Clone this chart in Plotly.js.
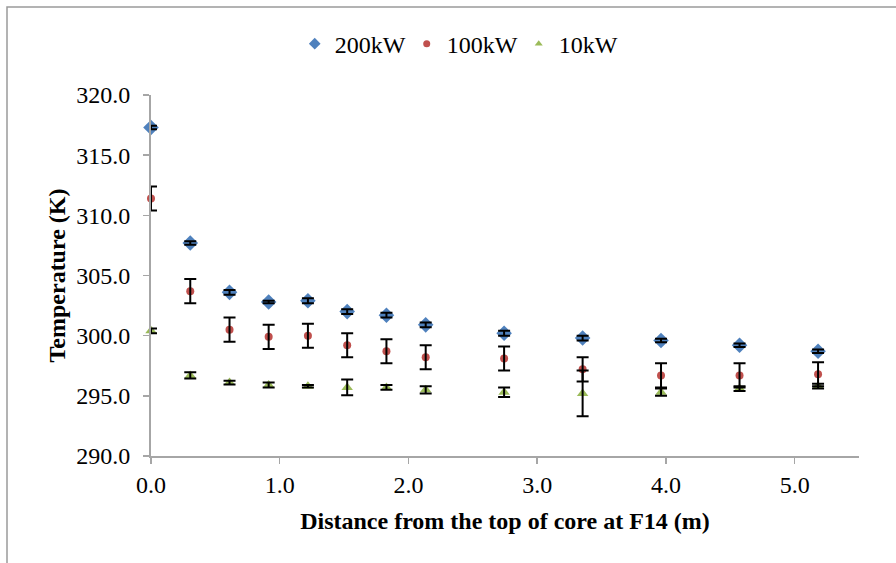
<!DOCTYPE html>
<html>
<head>
<meta charset="utf-8">
<script src="https://cdn.plot.ly/plotly-3.0.1.min.js"></script>
<style>html,body{margin:0;padding:0;background:#fff;}#chart{width:896px;height:563px;}</style>
</head>
<body>
<div id="chart"></div>
<script>
// Distance from the top of core (m)
const distance = [0, 0.305, 0.610, 0.914, 1.219, 1.524, 1.829, 2.134, 2.743, 3.353, 3.962, 4.572, 5.182];
// Temperatures (K)
const t200 = [317.3, 307.7, 303.6, 302.8, 302.9, 302.0, 301.7, 300.9, 300.2, 299.8, 299.6, 299.2, 298.7];
const t100 = [311.4, 303.7, 300.5, 299.9, 300.0, 299.2, 298.7, 298.2, 298.1, 297.2, 296.7, 296.7, 296.8];
const t10  = [300.4, 296.7, 296.1, 295.9, 295.8, 295.7, 295.7, 295.5, 295.3, 295.2, 295.3, 295.6, 295.8];
// Error bars (K)
const e200 = [0.15, 0.15, 0.2, 0.1, 0.2, 0.2, 0.2, 0.2, 0.2, 0.2, 0.15, 0.15, 0.15];
const e100 = [1.0, 1.0, 1.0, 1.0, 1.0, 1.0, 1.0, 1.0, 1.0, 1.0, 1.0, 1.0, 1.0];
const e10  = [0.2, 0.25, 0.15, 0.2, 0.1, 0.65, 0.2, 0.3, 0.4, 1.9, 0.3, 0.2, 0.2];
const seriesNames = ["200kW", "100kW", "10kW"];
const xTicks = [0, 1, 2, 3, 4, 5];
const yTicks = [290, 295, 300, 305, 310, 315, 320];

const FONT = "Liberation Serif";
const colors = ["#4F81BD", "#C0504D", "#9BBB59"];
const symbols = ["diamond", "circle", "triangle-up"];
const sizes = [12, 8, 10];
const legendSizes = [9, 7, 7];
function errSpec(arr) {
  return {type: "data", array: arr, visible: true, color: "#000", thickness: 2, width: 6};
}
const ys = [t200, t100, t10];
const es = [e200, e100, e10];
const traces = [];
// markers
for (let i = 0; i < 3; i++) {
  traces.push({x: distance, y: ys[i], name: seriesNames[i], mode: "markers", type: "scatter",
    showlegend: false, cliponaxis: false, legendgroup: seriesNames[i],
    marker: {symbol: symbols[i], size: sizes[i], color: colors[i]}});
}
// error bars drawn on top of all markers
for (let i = 0; i < 3; i++) {
  traces.push({x: distance, y: ys[i], name: seriesNames[i], mode: "markers", type: "scatter",
    showlegend: false, cliponaxis: false, legendgroup: seriesNames[i],
    marker: {size: 1, opacity: 0, color: colors[i]}, error_y: errSpec(es[i])});
}
// legend entries
for (let i = 0; i < 3; i++) {
  traces.push({x: [null], y: [null], name: seriesNames[i], mode: "markers", type: "scatter",
    showlegend: true, legendgroup: seriesNames[i],
    marker: {symbol: symbols[i], size: legendSizes[i], color: colors[i]}});
}
const layout = {
  width: 896, height: 563,
  margin: {l: 151, r: 37, t: 95, b: 107},
  paper_bgcolor: "#fff", plot_bgcolor: "#fff",
  font: {family: FONT, size: 24, color: "#000"},
  showlegend: true,
  legend: {orientation: "h", x: 0.203, xanchor: "left", y: 1.141, yanchor: "middle",
           font: {family: FONT, size: 24, color: "#000"}, itemwidth: 30, tracegroupgap: 0,
           entrywidth: 67, entrywidthmode: "pixels"},
  xaxis: {range: [0, 5.5], tickvals: xTicks, ticktext: xTicks.map(v => v.toFixed(1)),
          showgrid: false, zeroline: false, showline: true, linecolor: "#A6A6A6", linewidth: 2,
          ticks: "outside", ticklen: 6, tickcolor: "#A6A6A6", tickwidth: 1.5,
          tickfont: {family: FONT, size: 24, color: "#000"},
          title: {text: "<b>Distance from the top of core at F14 (m)</b>", font: {family: FONT, size: 24, color: "#000"}, standoff: 15}},
  yaxis: {range: [290, 320], tickvals: yTicks, ticktext: yTicks.map(v => v.toFixed(1)),
          showgrid: false, zeroline: false, showline: true, linecolor: "#A6A6A6", linewidth: 2,
          ticks: "outside", ticklen: 6, tickcolor: "#A6A6A6", tickwidth: 1.5, ticklabelstandoff: 8,
          tickfont: {family: FONT, size: 24, color: "#000"},
          title: {text: "<b>Temperature (K)</b>", font: {family: FONT, size: 24, color: "#000"}, standoff: 4}},
  shapes: [{type: "rect", xref: "paper", yref: "paper",
            x0: (7 - 151) / 708, x1: (905 - 151) / 708, y0: (456 - 575) / 361, y1: (456 - 7) / 361,
            line: {color: "#9a9a9a", width: 1.5}, fillcolor: "rgba(0,0,0,0)", layer: "below"}]
};
Plotly.newPlot("chart", traces, layout, {displayModeBar: false, staticPlot: true});
</script>
</body>
</html>
